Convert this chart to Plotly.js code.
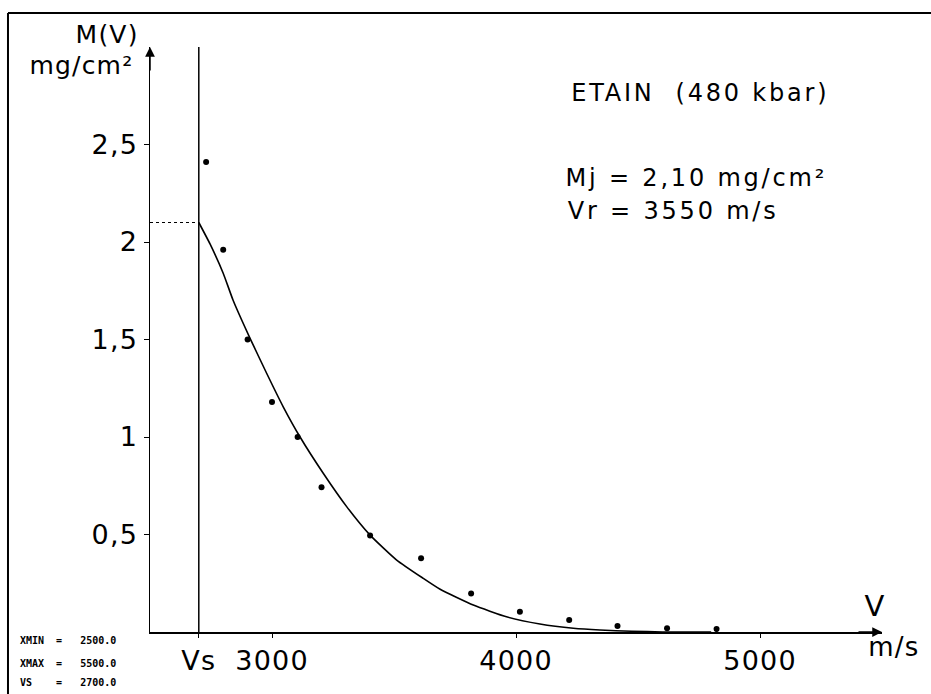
<!DOCTYPE html>
<html><head><meta charset="utf-8">
<script src="https://cdn.plot.ly/plotly-3.0.1.min.js"></script>
<style>
html,body{margin:0;padding:0;background:#fff;}
#chart{width:931px;height:694px;}
#chart .annotation-text, #chart .xtick text, #chart .ytick text{letter-spacing:1.2px;}
#chart g.annotation[data-index="6"] text,
#chart g.annotation[data-index="7"] text,
#chart g.annotation[data-index="8"] text{letter-spacing:2.8px;}
#chart g.annotation[data-index="9"] text,
#chart g.annotation[data-index="10"] text,
#chart g.annotation[data-index="11"] text{letter-spacing:0px;}
</style>
</head><body><div id="chart"></div>
<script>
// measured points
const pointV = [2730, 2800, 2900, 3000, 3105, 3203, 3402, 3611, 3816, 4016, 4218, 4416, 4619, 4822];
const pointM = [2.41, 1.96, 1.50, 1.18, 1.00, 0.742, 0.495, 0.378, 0.198, 0.104, 0.062, 0.031, 0.019, 0.015];
// fitted curve
const curveV = [2700, 2746, 2800, 2841, 2910, 2978, 3046, 3115, 3210, 3306, 3402, 3511, 3620, 3689, 3825, 3961, 4098, 4235, 4344, 4475, 4600, 4800];
const curveM = [2.10, 1.99, 1.84, 1.70, 1.506, 1.327, 1.155, 1.00, 0.814, 0.643, 0.497, 0.369, 0.275, 0.219, 0.138, 0.078, 0.041, 0.019, 0.010, 0.004, 0.0, 0.0];
// axis ticks
const xTickVals = [2700, 3000, 4000, 5000];
const xTickText = ['Vs', '3000', '4000', '5000'];
const yTickVals = [0.5, 1, 1.5, 2, 2.5];
const yTickText = ['0,5', '1', '1,5', '2', '2,5'];
// parameters
const XMIN = 2500, XMAX = 5500, VS = 2700, MJ = 2.10, YMAX = 3.0;

const font = 'DejaVu Sans, Verdana, sans-serif';
const mono = 'DejaVu Sans Mono, monospace';
const traces = [
  {x: [VS, VS], y: [0, YMAX], mode: 'lines', line: {color: '#000', width: 1.5}, hoverinfo: 'skip'},
  {x: [XMIN, VS], y: [MJ, MJ], mode: 'lines', line: {color: '#000', width: 1.2, dash: 'dot'}, hoverinfo: 'skip'},
  {x: curveV, y: curveM, mode: 'lines', line: {color: '#000', width: 1.6, shape: 'spline', smoothing: 0.5}},
  {x: pointV, y: pointM, mode: 'markers', marker: {color: '#000', size: 6}}
];

const layout = {
  width: 931, height: 694,
  margin: {l: 150, r: 49, t: 47, b: 62},
  paper_bgcolor: '#fff', plot_bgcolor: '#fff',
  showlegend: false,
  font: {family: font, color: '#000'},
  xaxis: {range: [XMIN, XMAX], showgrid: false, zeroline: false, showline: true, linecolor: '#000', linewidth: 1.5,
    tickmode: 'array', tickvals: xTickVals, ticktext: xTickText, ticks: 'outside', ticklen: 4, tickcolor: '#000',
    tickfont: {size: 27, family: font, color: '#000'}},
  yaxis: {range: [0, YMAX], showgrid: false, zeroline: false, showline: true, linecolor: '#000', linewidth: 1.5,
    tickmode: 'array', tickvals: yTickVals, ticktext: yTickText, ticks: 'outside', ticklen: 5, tickcolor: '#000',
    tickfont: {size: 27, family: font, color: '#000'}},
  shapes: [
    {type: 'line', xref: 'paper', yref: 'paper', x0: -0.194, x1: 1.1, y0: 1.058, y1: 1.058, line: {color: '#000', width: 2}},
    {type: 'line', xref: 'paper', yref: 'paper', x0: -0.194, x1: -0.194, y0: 1.058, y1: -0.11, line: {color: '#000', width: 2}}
  ],
  annotations: [
    // axis arrows
    {x: XMIN, y: YMAX, xref: 'x', yref: 'y', text: '', showarrow: true, arrowhead: 2, arrowsize: 1.3, arrowwidth: 1.5, arrowcolor: '#000', ax: 0, ay: 25},
    {x: XMAX, y: 0, xref: 'x', yref: 'y', text: '', showarrow: true, arrowhead: 2, arrowsize: 1.3, arrowwidth: 1.5, arrowcolor: '#000', ax: -25, ay: 0},
    // axis titles
    {xref: 'paper', yref: 'paper', x: -0.017, y: 1.021, xanchor: 'right', yanchor: 'middle', text: 'M(V)', showarrow: false, font: {size: 25}},
    {xref: 'paper', yref: 'paper', x: -0.024, y: 0.968, xanchor: 'right', yanchor: 'middle', text: 'mg/cm²', showarrow: false, font: {size: 25}},
    {xref: 'paper', yref: 'paper', x: 0.990, y: 0.045, xanchor: 'center', yanchor: 'middle', text: 'V', showarrow: false, font: {size: 29}},
    {xref: 'paper', yref: 'paper', x: 1.016, y: -0.025, xanchor: 'center', yanchor: 'middle', text: 'm/s', showarrow: false, font: {size: 26}},
    // info text
    {xref: 'paper', yref: 'paper', x: 0.7514, y: 0.921, xanchor: 'center', yanchor: 'middle', text: 'ETAIN  (480 kbar)', showarrow: false, font: {size: 24}},
    {xref: 'paper', yref: 'paper', x: 0.746, y: 0.776, xanchor: 'center', yanchor: 'middle', text: 'Mj = 2,10 mg/cm²', showarrow: false, font: {size: 24}},
    {xref: 'paper', yref: 'paper', x: 0.715, y: 0.719, xanchor: 'center', yanchor: 'middle', text: 'Vr = 3550 m/s', showarrow: false, font: {size: 24}},
    // parameter box
    {xref: 'paper', yref: 'paper', x: -0.181, y: -0.0137, xanchor: 'left', yanchor: 'middle', text: '<b>XMIN  =   ' + XMIN.toFixed(1) + '</b>', showarrow: false, font: {size: 10, family: mono}},
    {xref: 'paper', yref: 'paper', x: -0.181, y: -0.053, xanchor: 'left', yanchor: 'middle', text: '<b>XMAX  =   ' + XMAX.toFixed(1) + '</b>', showarrow: false, font: {size: 10, family: mono}},
    {xref: 'paper', yref: 'paper', x: -0.181, y: -0.0855, xanchor: 'left', yanchor: 'middle', text: '<b>VS    =   ' + VS.toFixed(1) + '</b>', showarrow: false, font: {size: 10, family: mono}}
  ]
};
Plotly.newPlot('chart', traces, layout, {displayModeBar: false, staticPlot: true});
</script></body></html>
